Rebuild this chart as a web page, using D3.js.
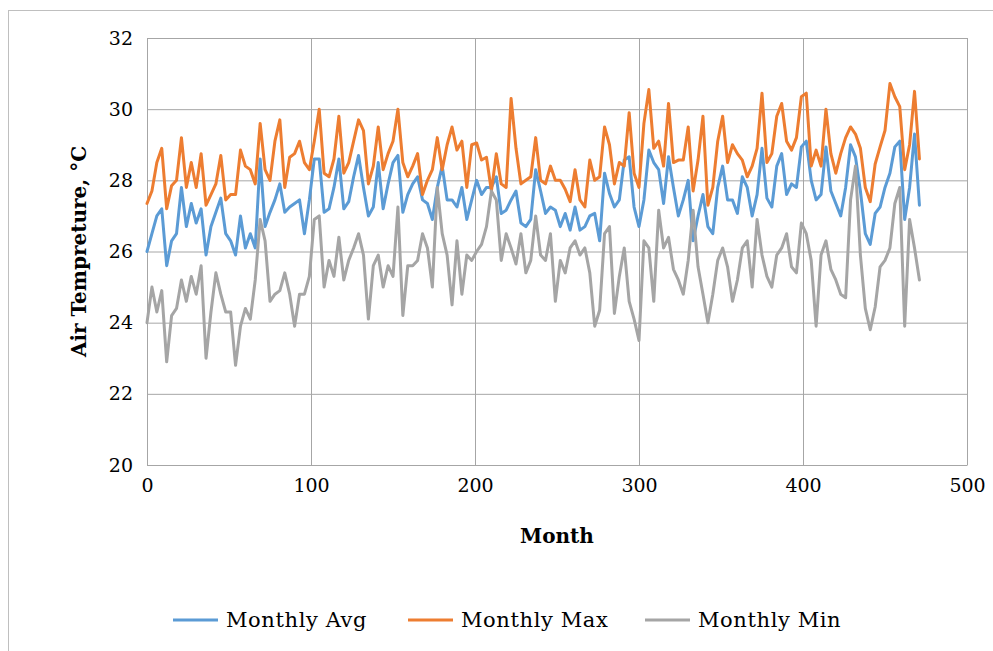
<!DOCTYPE html>
<html>
<head>
<meta charset="utf-8">
<script src="https://cdn.jsdelivr.net/npm/d3@7"></script>
<style>
  body { margin: 0; background: #fff; }
  text { font-family: "DejaVu Serif", serif; }
</style>
</head>
<body>
<svg id="chart" width="993" height="651"></svg>
<script>
// Data: one value every 3 months, starting at month 0
let step = 3;
let monthlyAvg = [
  26.0, 26.5, 27.0, 27.2, 25.6, 26.3, 26.5, 27.8, 26.7, 27.35, 26.8, 27.2, 25.9, 26.7,
  27.1, 27.5, 26.5, 26.3, 25.9, 27.0, 26.1, 26.5, 26.1, 28.6, 26.7, 27.1, 27.45,
  27.9, 27.1, 27.25, 27.35, 27.45, 26.5, 27.45, 28.6, 28.6, 27.1, 27.2, 27.8, 28.6,
  27.2, 27.4, 28.1, 28.7, 27.8, 27.0, 27.25, 28.5, 27.2, 27.9, 28.5, 28.7, 27.1, 27.6,
  27.9, 28.1, 27.45, 27.35, 26.9, 27.8, 28.4, 27.45, 27.45, 27.25, 27.8, 26.9, 27.45,
  28.0, 27.6, 27.8, 27.8, 28.1, 27.07, 27.16, 27.45, 27.7, 26.8, 26.7, 26.9, 28.3, 27.7,
  27.07, 27.25, 27.16, 26.7, 27.07, 26.6, 27.25, 26.6, 26.7, 27.0, 27.07, 26.3, 28.2,
  27.63, 27.25, 27.45, 28.57, 28.66, 27.25, 26.7, 27.45, 28.85, 28.5, 28.3, 27.35, 28.66,
  27.8, 27.0, 27.45, 28.0, 26.3, 27.0, 27.6, 26.7, 26.5, 27.8, 28.4, 27.45, 27.45, 27.07,
  28.1, 27.8, 27.0, 27.6, 28.9, 27.5, 27.25, 28.4, 28.75, 27.6, 27.9, 27.8, 28.94,
  29.1, 28.0, 27.45, 27.6, 28.94, 27.7, 27.35, 27.0, 27.8, 29.0, 28.66, 27.7, 26.5, 26.2,
  27.07, 27.25, 27.8, 28.2, 28.94, 29.1, 26.9, 27.8, 29.3, 27.3
];
let monthlyMax = [
  27.35, 27.7, 28.5, 28.9, 27.2, 27.85, 28.0, 29.2, 27.8, 28.5, 27.8, 28.75, 27.3, 27.6,
  27.9, 28.7, 27.45, 27.6, 27.6, 28.85, 28.4, 28.3, 27.9, 29.6, 28.3, 28.0, 29.1,
  29.7, 27.8, 28.65, 28.75, 29.1, 28.5, 28.3, 29.1, 30.0, 28.2, 28.1, 28.6, 29.8,
  28.2, 28.5, 29.1, 29.7, 29.4, 27.9, 28.4, 29.5, 28.3, 28.75, 29.1, 30.0, 28.5, 28.1,
  28.4, 28.75, 27.6, 28.0, 28.3, 29.2, 28.3, 29.0, 29.5, 28.85, 29.1, 27.8, 29.0,
  29.05, 28.57, 28.65, 27.7, 28.75, 27.9, 27.8, 30.3, 28.9, 27.9, 28.0, 28.1, 29.2, 28.0,
  27.9, 28.4, 28.0, 28.0, 27.75, 27.4, 28.3, 27.45, 27.25, 28.57, 28.0, 28.1, 29.5,
  29.0, 27.9, 28.5, 28.4, 29.9, 28.2, 27.8, 29.6, 30.55, 28.9, 29.1, 28.4, 30.16,
  28.5, 28.57, 28.57, 29.5, 27.7, 28.57, 29.8, 27.3, 27.8, 29.1, 29.8, 28.5, 29.0, 28.75,
  28.57, 28.1, 28.4, 28.9, 30.45, 28.5, 28.75, 29.8, 30.16, 29.1, 28.85, 29.2, 30.35,
  30.45, 28.4, 28.85, 28.4, 30.0, 28.75, 28.2, 28.75, 29.2, 29.5, 29.3, 28.9, 27.8, 27.4,
  28.46, 28.94, 29.4, 30.72, 30.35, 30.07, 28.3, 29.0, 30.5, 28.6
];
let monthlyMin = [
  24.0, 25.0, 24.3, 24.9, 22.9, 24.2, 24.4, 25.2, 24.6, 25.3, 24.8, 25.6, 23.0, 24.3,
  25.4, 24.8, 24.3, 24.3, 22.8, 23.9, 24.4, 24.1, 25.2, 26.9, 26.3, 24.6, 24.8,
  24.9, 25.4, 24.8, 23.9, 24.8, 24.8, 25.3, 26.9, 27.0, 25.0, 25.75, 25.3, 26.4,
  25.2, 25.75, 26.1, 26.5, 25.9, 24.1, 25.6, 25.9, 25.0, 25.6, 25.3, 27.25, 24.2, 25.6,
  25.6, 25.75, 26.5, 26.1, 25.0, 27.8, 26.5, 25.9, 24.5, 26.3, 24.8, 25.9, 25.75,
  26.0, 26.2, 26.7, 27.7, 27.45, 25.75, 26.5, 26.1, 25.65, 26.5, 25.4, 25.75, 27.0, 25.9,
  25.75, 26.5, 24.6, 25.75, 25.4, 26.1, 26.3, 25.9, 26.1, 25.4, 23.9, 24.35, 26.5,
  26.7, 24.26, 25.3, 26.1, 24.6, 24.1, 23.5, 26.3, 26.1, 24.6, 27.16, 26.1, 26.4,
  25.5, 25.2, 24.8, 25.75, 27.16, 25.57, 24.8, 24.0, 24.8, 25.75, 26.1, 25.57, 24.6, 25.2,
  26.1, 26.3, 25.0, 26.9, 25.9, 25.3, 25.0, 25.9, 26.1, 26.5, 25.57, 25.4, 26.8,
  26.5, 25.75, 23.9, 25.9, 26.3, 25.5, 25.2, 24.8, 24.7, 27.45, 28.4, 25.9, 24.4, 23.8,
  24.44, 25.57, 25.75, 26.1, 27.35, 27.8, 23.9, 26.9, 26.1, 25.2
];
let yTicks = [20, 22, 24, 26, 28, 30, 32];
let xTicks = [0, 100, 200, 300, 400, 500];
let seriesNames = ["Monthly Avg", "Monthly Max", "Monthly Min"];
let seriesColors = ["#5b9bd5", "#ed7d31", "#a5a5a5"];

let svg = d3.select("svg#chart");

// Chart frame
svg.append("rect")
  .attr("x", 8.5)
  .attr("y", 10.5)
  .attr("width", 1000)
  .attr("height", 700)
  .attr("fill", "none")
  .attr("stroke", "#bfbfbf");

let margin = { "top": 38, "left": 147 };
let chartWidth = 820;
let chartHeight = 427;

const xScale = d3.scaleLinear()
  .domain([0, 500])
  .range([0, chartWidth]);

const yScale = d3.scaleLinear()
  .domain([20, 32])
  .range([chartHeight, 0]);

let plot = svg.append("g")
  .attr("transform", "translate(" + margin.left + "," + margin.top + ")");

// Gridlines
let gridColor = "#a6a6a6";
plot.append("g")
  .call(d3.axisLeft(yScale).tickValues(yTicks).tickSize(-chartWidth).tickFormat(""))
  .call(g => g.select(".domain").remove())
  .call(g => g.selectAll("line").attr("stroke", gridColor));

plot.append("g")
  .attr("transform", "translate(0," + chartHeight + ")")
  .call(d3.axisBottom(xScale).tickValues(xTicks).tickSize(-chartHeight).tickFormat(""))
  .call(g => g.select(".domain").remove())
  .call(g => g.selectAll("line").attr("stroke", gridColor));

// Axes
let leftAxis = plot.append("g")
  .call(d3.axisLeft(yScale).tickValues(yTicks).tickSize(0).tickPadding(14));
leftAxis.select(".domain").remove();
leftAxis.selectAll("text")
  .attr("font-family", "DejaVu Serif")
  .attr("font-size", "19px")
  .attr("fill", "#000");

let bottomAxis = plot.append("g")
  .attr("transform", "translate(0," + chartHeight + ")")
  .call(d3.axisBottom(xScale).tickValues(xTicks).tickSize(0).tickPadding(14));
bottomAxis.select(".domain").attr("stroke", gridColor);
bottomAxis.selectAll("text")
  .attr("font-family", "DejaVu Serif")
  .attr("font-size", "19px")
  .attr("fill", "#000");

// Lines
let lineGen = d3.line()
  .x((d, i) => xScale(i * step))
  .y(d => yScale(d));

[monthlyAvg, monthlyMax, monthlyMin].forEach((values, k) => {
  plot.append("path")
    .datum(values)
    .attr("d", lineGen)
    .attr("fill", "none")
    .attr("stroke", seriesColors[k])
    .attr("stroke-width", 3)
    .attr("stroke-linejoin", "round")
    .attr("stroke-linecap", "round");
});

// Axis titles
svg.append("text")
  .attr("text-anchor", "middle")
  .attr("x", margin.left + chartWidth / 2)
  .attr("y", 543)
  .attr("font-size", "20px")
  .attr("font-weight", "bold")
  .text("Month");

let xCent = 86;
let yCent = margin.top + chartHeight / 2;
svg.append("text")
  .attr("text-anchor", "middle")
  .attr("x", xCent)
  .attr("y", yCent)
  .attr("font-size", "20px")
  .attr("font-weight", "bold")
  .attr("transform", "rotate(-90," + xCent + "," + yCent + ")")
  .text("Air Tempreture, °C");

// Legend
let legendX = [173, 408, 645];
seriesNames.forEach((name, k) => {
  svg.append("line")
    .attr("x1", legendX[k])
    .attr("x2", legendX[k] + 45)
    .attr("y1", 620)
    .attr("y2", 620)
    .attr("stroke", seriesColors[k])
    .attr("stroke-width", 3);
  svg.append("text")
    .attr("x", legendX[k] + 53)
    .attr("y", 627)
    .attr("font-size", "21px")
    .attr("letter-spacing", "0.6px")
    .text(name);
});
</script>
</body>
</html>
